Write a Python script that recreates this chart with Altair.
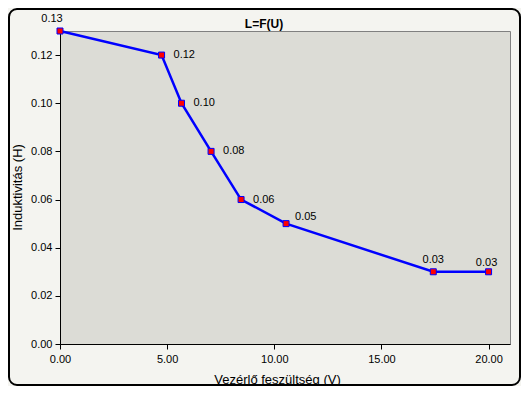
import altair as alt
import pandas as pd

voltage = [0.0, 4.74, 5.67, 7.05, 8.45, 10.55, 17.42, 20.0]
inductance = [0.13, 0.12, 0.10, 0.08, 0.06, 0.05, 0.03, 0.03]
x_ticks = [0, 5, 10, 15, 20]
y_ticks = [0, 0.02, 0.04, 0.06, 0.08, 0.10, 0.12]

df = pd.DataFrame({"U": voltage, "L": inductance, "i": list(range(len(voltage)))})
one = pd.DataFrame({"a": [0]})

FONT = "Liberation Sans"
W, H = 450, 313
PL, PT, PR, PB = 52, 23, 11, 42

x = alt.X("U:Q", scale=alt.Scale(domain=[0, 21], nice=False),
          axis=alt.Axis(values=x_ticks, format=".2f", title="Vezérlő feszültség (V)",
                        titleX=217, titleY=35, titleBaseline="middle", labelFlush=False))
y = alt.Y("L:Q", scale=alt.Scale(domain=[0, 0.13], nice=False),
          axis=alt.Axis(values=y_ticks, format=".2f", title="Induktivitás (H)",
                        titleX=-43, titleY=156, titleAngle=-90, titleAlign="center",
                        titleBaseline="middle", labelFlush=False))

base = alt.Chart(df)

line = base.mark_line(color="#0000ff", strokeWidth=2.5).encode(x=x, y=y)
pts = base.mark_square(size=36, fill="#ff0000", stroke="#0000ff", strokeWidth=1, opacity=1).encode(x="U:Q", y="L:Q")

def lbl(idx, dx, dy, align):
    return base.transform_filter(alt.FieldOneOfPredicate(field="i", oneOf=idx)).mark_text(
        font=FONT, fontSize=11, color="black", dx=dx, dy=dy, align=align, baseline="middle"
    ).encode(x="U:Q", y="L:Q", text=alt.Text("L:Q", format=".2f"))

labels_right = lbl([1, 2, 3, 4], 12, 0, "left")
label_05 = lbl([5], 9, -7, "left")
label_03a = lbl([6], 0, -12, "center")
label_03b = lbl([7], -2, -9, "center")
label_13 = lbl([0], -8, -12, "center")

title = alt.Chart(one).mark_text(font=FONT, fontSize=12, fontWeight="bold", color="black",
                                 align="center", baseline="alphabetic").encode(
    x=alt.value(204), y=alt.value(-3), text=alt.value("L=F(U)"))

frame = alt.Chart(one).mark_rect(fill=None, fillOpacity=0, stroke="black", strokeWidth=2,
                                 cornerRadius=8).encode(
    x=alt.value(-PL + 1), x2=alt.value(W + PR - 1), y=alt.value(-PT + 1), y2=alt.value(H + PB - 1))

chart = alt.layer(line, pts, labels_right, label_05, label_03a, label_03b, label_13, title, frame).properties(
    width=W, height=H,
    autosize=alt.AutoSizeParams(type="none"),
    padding={"left": PL, "top": PT, "right": PR, "bottom": PB},
    background="#f4f4f0",
).configure_view(
    fill="#dcdcd6", stroke="#808080", strokeWidth=1
).configure_axis(
    domainColor="black", domainWidth=1, tickColor="black", tickSize=5, tickWidth=1,
    labelFont=FONT, labelFontSize=11, labelColor="black", labelPadding=3,
    titleFont=FONT, titleFontSize=13, titleFontWeight="normal", titleColor="black",
    grid=False, zindex=1
).configure_axisX(labelPadding=4)

chart.save("out.html", embed_options={"renderer": "svg", "actions": False})
